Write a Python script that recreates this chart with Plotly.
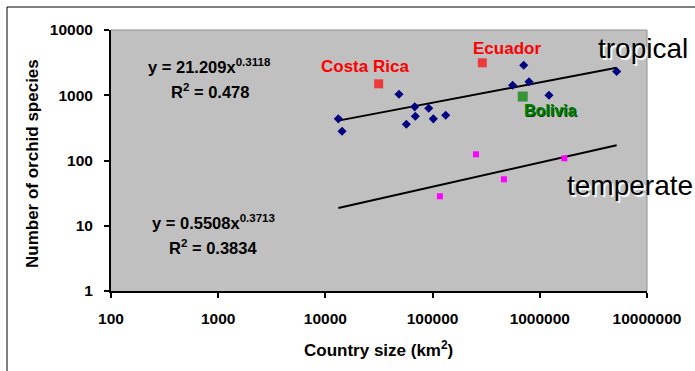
import plotly.graph_objects as go
import numpy as np

# Tropical countries (navy diamonds)
trop_x = [13200, 14300, 48600, 68100, 69000, 56900, 92000, 101600, 132500,
          708000, 558000, 793000, 1218000, 5210000]
trop_y = [435, 281, 1035, 664, 476, 359, 632, 435, 493,
          2883, 1422, 1607, 1000, 2311]

# Highlighted countries
hl_names = ["Costa Rica", "Ecuador", "Bolivia"]
hl_x = [31400, 291000, 693000]
hl_y = [1497, 3142, 955]

# Temperate countries (magenta squares)
temp_x = [254000, 463000, 117000, 1695000]
temp_y = [124.5, 51.5, 28.3, 108]

# Power-law fits shown on the chart
trop_a, trop_b = 21.209, 0.3118
temp_a, temp_b = 0.5508, 0.3713
fit_x = np.logspace(np.log10(13200), np.log10(5210000), 50)

x_ticks = [100, 1000, 10000, 100000, 1000000, 10000000]
y_ticks = [1, 10, 100, 1000, 10000]

FONT = "Arial, Liberation Sans, sans-serif"

fig = go.Figure()
fig.add_trace(go.Scatter(x=fit_x, y=trop_a * fit_x ** trop_b, mode="lines",
                         line=dict(color="black", width=2), hoverinfo="skip"))
fig.add_trace(go.Scatter(x=fit_x, y=temp_a * fit_x ** temp_b, mode="lines",
                         line=dict(color="black", width=2), hoverinfo="skip"))
fig.add_trace(go.Scatter(x=trop_x, y=trop_y, mode="markers",
                         marker=dict(symbol="diamond", size=7, color="#000080",
                                     line=dict(width=0))))
fig.add_trace(go.Scatter(x=temp_x, y=temp_y, mode="markers",
                         marker=dict(symbol="square", size=6, color="#FF00FF",
                                     line=dict(width=0))))
fig.add_trace(go.Scatter(x=hl_x, y=hl_y, mode="markers",
                         marker=dict(symbol="square", size=[9, 9, 10],
                                     color=["#FF0000", "#FF0000", "#008000"],
                                     line=dict(width=0))))

W, H = 695, 371
L, R, T, B = 111, 48, 30, 80
pw, ph = W - L - R, H - T - B
def px(xp): return (xp - L) / pw
def py(yp): return (H - B - yp) / ph

ann = []
def add_text(x, y, text, size=16, color="black", bold=True, shadow=None, angle=0):
    t = f"<b>{text}</b>" if bold else text
    f = dict(family=FONT, size=size, color=color)
    if shadow:
        f["shadow"] = shadow
    ann.append(dict(xref="paper", yref="paper", x=px(x), y=py(y), text=t, showarrow=False,
                    font=f, xanchor="center", yanchor="middle", textangle=angle))

add_text(209, 66, "y = 21.209x<sup>0.3118</sup>", size=16.5)
add_text(210, 91, "R<sup>2</sup> = 0.478", size=16.5)
add_text(213, 222, "y = 0.5508x<sup>0.3713</sup>", size=16.5)
add_text(213, 247, "R<sup>2</sup> = 0.3834", size=16.5)
add_text(365, 66, "Costa Rica", size=17, color="#FF0000")
add_text(507, 49, "Ecuador", size=17, color="#FF0000")
add_text(550, 111, "Bolivia", size=16, color="#008000", shadow="1px 1px 0px #004000")
add_text(643, 48, "tropical", size=28, bold=False, shadow="2px 2px 1px white")
add_text(630, 186, "temperate", size=28, bold=False, shadow="2px 2px 1px white")
add_text(378, 349, "Country size (km<sup>2</sup>)", size=17)
add_text(32, 164, "Number of orchid species", size=17, angle=-90)

shapes = [
    dict(type="line", xref="paper", yref="paper", x0=px(7), x1=px(700), y0=py(7), y1=py(7),
         line=dict(color="black", width=1)),
    dict(type="line", xref="paper", yref="paper", x0=px(7), x1=px(7), y0=py(7), y1=py(380),
         line=dict(color="black", width=1)),
    dict(type="line", xref="paper", yref="paper", x0=0, x1=1, y0=1, y1=1,
         line=dict(color="#909090", width=1)),
    dict(type="line", xref="paper", yref="paper", x0=1, x1=1, y0=0, y1=1,
         line=dict(color="#909090", width=1)),
]

fig.update_layout(
    width=W, height=H,
    margin=dict(l=L, r=R, t=T, b=B, autoexpand=False),
    paper_bgcolor="white", plot_bgcolor="#C0C0C0",
    showlegend=False,
    annotations=ann, shapes=shapes,
    font=dict(family=FONT, size=15, color="black"),
)
fig.update_xaxes(type="log", range=[2, 7], tickvals=x_ticks,
                 ticktext=[f"<b>{v}</b>" for v in x_ticks],
                 showgrid=False, zeroline=False, showline=True, linecolor="black", linewidth=2,
                 ticks="outside", ticklen=5, tickwidth=2, tickcolor="black",
                 ticklabelstandoff=7, tickfont=dict(size=15.5))
fig.update_yaxes(type="log", range=[0, 4], tickvals=y_ticks,
                 ticktext=[f"<b>{v}</b>" for v in y_ticks],
                 showgrid=False, zeroline=False, showline=True, linecolor="black", linewidth=2,
                 ticks="outside", ticklen=5, tickwidth=2, tickcolor="black",
                 ticklabelstandoff=8, tickfont=dict(size=15.5))

fig.write_html("out.html", config={"displayModeBar": False},
               post_script="document.body.style.margin='0';")
